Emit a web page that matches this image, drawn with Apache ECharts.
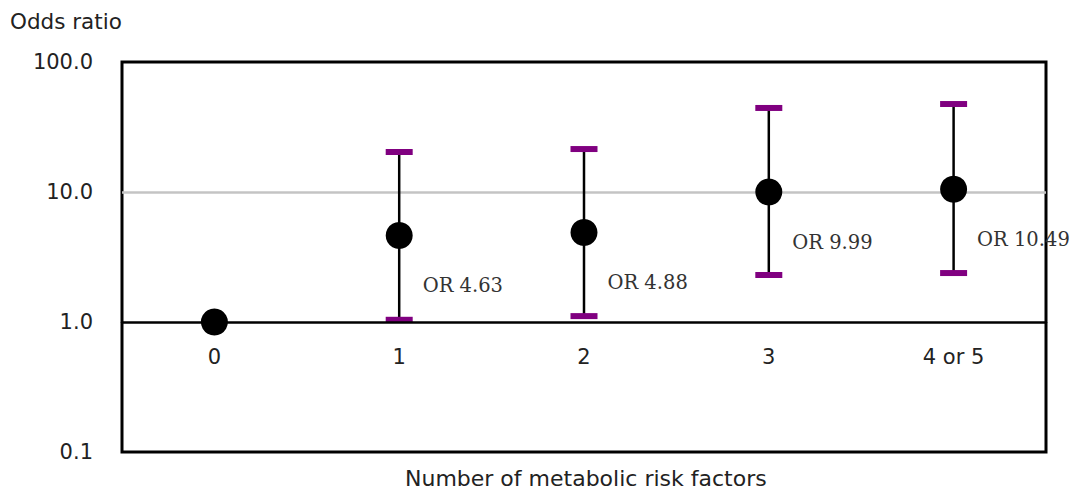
<!DOCTYPE html>
<html>
<head>
<meta charset="utf-8">
<script src="https://cdn.jsdelivr.net/npm/echarts@6/dist/echarts.min.js"></script>
<style>
html,body{margin:0;padding:0;background:#fff;}
#chart{width:1073px;height:494px;}
</style>
</head>
<body>
<div id="chart"></div>
<script>
const categories = ['0', '1', '2', '3', '4 or 5'];
const oddsRatios = [1.0, 4.63, 4.88, 9.99, 10.49];
const ciLower = [null, 1.04, 1.11, 2.30, 2.38];
const ciUpper = [null, 20.3, 21.4, 44.3, 47.5];
const orLabels = [null, 'OR 4.63', 'OR 4.88', 'OR 9.99', 'OR 10.49'];
const gridValue = 10;

const sansFont = '"DejaVu Sans", "Liberation Sans", Arial, sans-serif';
const serifFont = '"DejaVu Serif", "Liberation Serif", serif';

const chart = echarts.init(document.getElementById('chart'), null, {renderer: 'svg'});

const errData = categories.map((c, i) => [i, ciLower[i], ciUpper[i]]).filter(d => d[1] != null);
const pointData = categories.map((c, i) => ({
  value: [i, oddsRatios[i]],
  label: {show: orLabels[i] != null, formatter: orLabels[i] || ''}
}));

chart.setOption({
  animation: false,
  grid: {left: 122, right: 27, top: 62, bottom: 42, show: true, borderColor: '#000', borderWidth: 3, backgroundColor: 'transparent'},
  graphic: [
    {type: 'text', left: 10, top: 10, style: {text: 'Odds ratio', font: '21.5px ' + sansFont, fill: '#222'}},
    {type: 'text', left: 405, top: 467, style: {text: 'Number of metabolic risk factors', font: '22px ' + sansFont, fill: '#222'}}
  ],
  xAxis: {
    type: 'category',
    data: categories,
    position: 'bottom',
    offset: -130,
    axisLine: {show: true, lineStyle: {color: '#000', width: 2.5}},
    axisTick: {show: false},
    axisLabel: {margin: 24, fontSize: 21, fontFamily: sansFont, color: '#222'},
    splitLine: {show: false},
    z: 5
  },
  yAxis: {
    type: 'log',
    logBase: 10,
    min: 0.1,
    max: 100,
    axisLine: {show: false},
    axisTick: {show: false},
    axisLabel: {
      margin: 29, fontSize: 21, fontFamily: sansFont, color: '#222', padding: [7, 0, 0, 0],
      formatter: v => Number(v).toFixed(1)
    },
    splitLine: {show: false}
  },
  series: [
    {
      type: 'custom',
      data: errData,
      z: 3,
      markLine: {
        silent: true,
        symbol: 'none',
        label: {show: false},
        lineStyle: {color: '#c4c4c4', width: 2.5, type: 'solid'},
        data: [{yAxis: gridValue}],
        z: 1
      },
      renderItem: function (params, api) {
        const x = api.value(0);
        const hi = api.coord([x, api.value(2)]);
        const lo = api.coord([x, api.value(1)]);
        const capW = 27, capH = 6;
        return {
          type: 'group',
          children: [
            {type: 'line', shape: {x1: hi[0], y1: hi[1], x2: lo[0], y2: lo[1]}, style: {stroke: '#000', lineWidth: 2.5}},
            {type: 'rect', shape: {x: hi[0] - capW / 2, y: hi[1] - capH / 2, width: capW, height: capH}, style: {fill: '#800080'}},
            {type: 'rect', shape: {x: lo[0] - capW / 2, y: lo[1] - capH / 2, width: capW, height: capH}, style: {fill: '#800080'}}
          ]
        };
      }
    },
    {
      type: 'scatter',
      data: pointData,
      symbol: 'circle',
      symbolSize: 27,
      z: 10,
      itemStyle: {color: '#000', opacity: 1},
      label: {
        position: 'right',
        distance: 10,
        offset: [0, 50],
        fontSize: 19.5,
        fontFamily: serifFont,
        color: '#333'
      }
    }
  ]
});
</script>
</body>
</html>
